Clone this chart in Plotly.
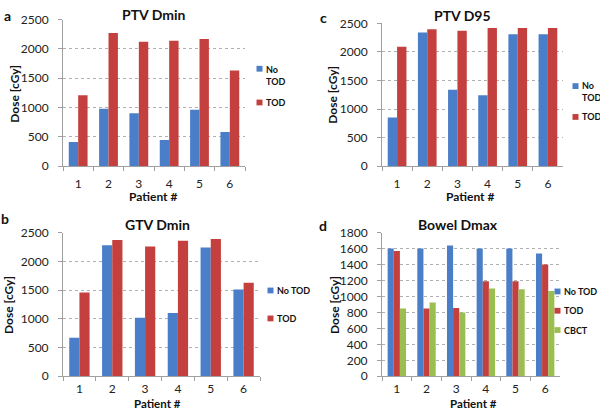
import plotly.graph_objects as go

patients = ["1", "2", "3", "4", "5", "6"]

ptv_dmin_no_tod = [410, 980, 900, 445, 960, 580]
ptv_dmin_tod = [1210, 2270, 2120, 2140, 2170, 1630]

ptv_d95_no_tod = [850, 2340, 1340, 1240, 2310, 2310]
ptv_d95_tod = [2090, 2400, 2370, 2420, 2420, 2420]

gtv_dmin_no_tod = [670, 2280, 1020, 1100, 2240, 1510]
gtv_dmin_tod = [1460, 2370, 2260, 2360, 2390, 1630]

bowel_dmax_no_tod = [1600, 1600, 1640, 1600, 1600, 1540]
bowel_dmax_tod = [1570, 850, 855, 1190, 1190, 1400]
bowel_dmax_cbct = [850, 925, 800, 1100, 1090, 1070]

BLUE = "#4A7EC8"
RED = "#C4403E"
GREEN = "#9BBE50"

W, H = 600, 418
FONT = "Lato, Open Sans, Liberation Sans, Arial"


def px(x):
    return x / W


def py(y):
    return 1 - y / H


fig = go.Figure()

panels = [
    ("", (63, 245), (12, 164), [(ptv_dmin_no_tod, BLUE, "No TOD"), (ptv_dmin_tod, RED, "TOD")], 2500, 500, 6),
    ("2", (382, 563), (16, 164), [(ptv_d95_no_tod, BLUE, "No TOD"), (ptv_d95_tod, RED, "TOD")], 2500, 500, 6),
    ("3", (63, 260), (233, 382), [(gtv_dmin_no_tod, BLUE, "No TOD"), (gtv_dmin_tod, RED, "TOD")], 2500, 500, 1),
    ("4", (382, 560), (233, 382),
     [(bowel_dmax_no_tod, BLUE, "No TOD"), (bowel_dmax_tod, RED, "TOD"), (bowel_dmax_cbct, GREEN, "CBCT")],
     1800, 200, 1),
]

for suf, (x0, x1), (ytop, ybot), series, ymax, dtick, xstand in panels:
    for vals, col, name in series:
        fig.add_trace(go.Bar(
            x=patients, y=vals, name=name, marker=dict(color=col, line=dict(width=0)),
            xaxis="x" + suf, yaxis="y" + suf, showlegend=False,
        ))
    fig.layout["xaxis" + suf] = dict(
        domain=[px(x0), px(x1)], anchor="y" + suf, type="category",
        showline=True, linecolor="#A0A0A0", linewidth=1,
        ticks="outside", ticklen=4, tickcolor="#A0A0A0", tickson="boundaries",
        showgrid=False, tickfont=dict(family=FONT, size=12, color="#222"),
        ticklabelstandoff=xstand, fixedrange=True,
    )
    fig.layout["yaxis" + suf] = dict(
        domain=[py(ybot), py(ytop)], anchor="x" + suf, range=[0, ymax], dtick=dtick,
        showline=True, linecolor="#A0A0A0", linewidth=1,
        ticks="outside", ticklen=4, tickcolor="#A0A0A0",
        showgrid=True, gridcolor="#B0B0B0", griddash="dot", gridwidth=1,
        zeroline=False, tickfont=dict(family=FONT, size=12, color="#222"),
        ticklabelstandoff=7, fixedrange=True,
    )

ann = []


def text(x, y, t, size=12, bold=True, angle=0, xanchor="center", yanchor="middle"):
    s = f"<b>{t}</b>" if bold else t
    ann.append(dict(x=px(x), y=py(y), xref="paper", yref="paper", text=s, showarrow=False,
                    xanchor=xanchor, yanchor=yanchor, textangle=angle, borderpad=0,
                    font=dict(family=FONT, size=size, color="#111")))


text(153, 7, "PTV Dmin", 14)
text(463, 8, "PTV D95", 14)
text(157, 225, "GTV Dmin", 14)
text(458, 225, "Bowel Dmax", 14)

text(7, 8, "a", 14)
text(323, 10, "c", 14)
text(5, 218, "b", 14)
text(323, 226, "d", 14)

text(153, 195, "Patient #", 12)
text(470, 195, "Patient #", 12)
text(157, 418, "Patient #", 11.5, yanchor="bottom")
text(473, 418, "Patient #", 11.5, yanchor="bottom")

text(15, 89, "Dose [cGy]", 12, angle=-90)
text(333, 90, "Dose [cGy]", 12, angle=-90)
text(9, 308, "Dose [cGy]", 12, angle=-90)
text(335, 308, "Dose [cGy]", 12, angle=-90)

shapes = []


def legend_item(sx, sy, col, label, ty=None):
    shapes.append(dict(type="rect", xref="paper", yref="paper",
                       x0=px(sx - 3), x1=px(sx + 3), y0=py(sy + 3), y1=py(sy - 3),
                       fillcolor=col, line=dict(width=0)))
    ty = sy if ty is None else ty
    ann.append(dict(x=px(sx + 5), y=py(ty), xref="paper", yref="paper", text=f"<b>{label}</b>",
                    showarrow=False, xanchor="left", yanchor="middle", align="left", borderpad=0,
                    font=dict(family=FONT, size=9, color="#111")))


legend_item(259.5, 63, BLUE, "No<br>TOD", ty=70)
legend_item(259.5, 98, RED, "TOD")
legend_item(575.5, 81, BLUE, "No<br>TOD", ty=87)
legend_item(575.5, 113, RED, "TOD")
legend_item(270.5, 293, BLUE, "No TOD")
legend_item(270.5, 322, RED, "TOD")
legend_item(557.5, 294, BLUE, "No TOD")
legend_item(557.5, 314, RED, "TOD")
legend_item(557.5, 334, GREEN, "CBCT")

fig.update_layout(
    width=W, height=H, margin=dict(l=0, r=0, t=0, b=0),
    paper_bgcolor="white", plot_bgcolor="white",
    barmode="group", bargap=0.38, bargroupgap=0,
    annotations=ann, shapes=shapes, showlegend=False,
)

fig.write_html(
    "out.html",
    config={"displayModeBar": False},
    post_script="document.body.style.margin='0';document.body.style.overflow='hidden';",
)
